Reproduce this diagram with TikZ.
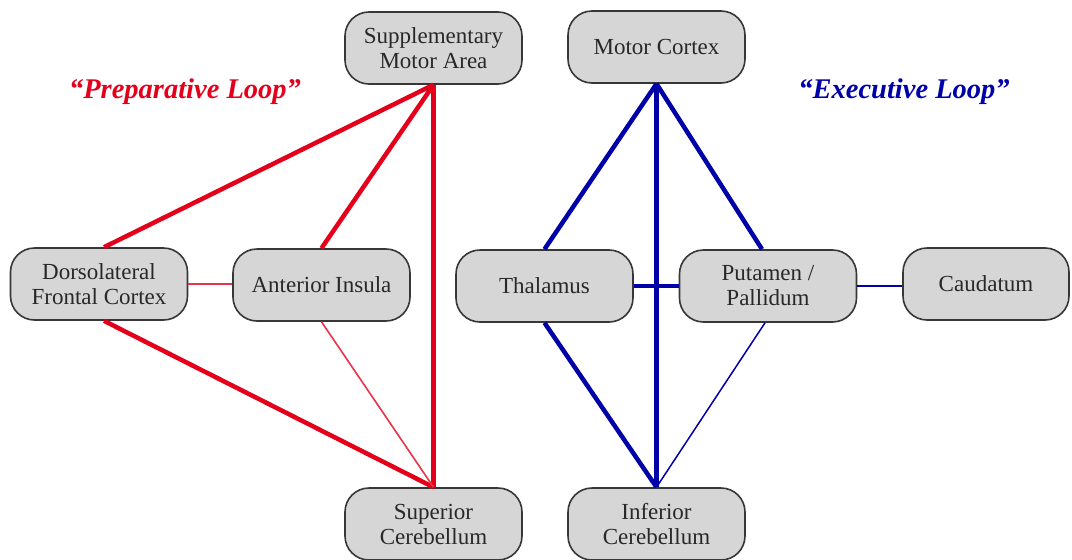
\documentclass[tikz,border=0pt]{standalone}
\usepackage{fontspec}
\setmainfont{Liberation Serif}
\definecolor{redl}{RGB}{228,0,27}
\definecolor{bluel}{RGB}{0,0,168}
\definecolor{boxfill}{RGB}{214,214,214}
\definecolor{boxline}{RGB}{55,55,55}
\definecolor{boxtext}{RGB}{40,40,40}
\begin{document}
\begin{tikzpicture}[x=1pt,y=-1pt,
  region/.style={draw=boxline, line width=1.6pt, fill=boxfill, rounded corners=24pt,
    minimum width=177pt, minimum height=72pt, align=center, inner sep=0pt,
    text=boxtext, font=\fontsize{23}{25}\selectfont},
  thickred/.style={draw=redl, line width=4.5pt},
  thinred/.style={draw=redl!80, line width=1.6pt},
  thickblue/.style={draw=bluel, line width=4.5pt},
  thinblue/.style={draw=bluel, line width=1.5pt},
  looplabel/.style={font=\fontsize{28.5}{32}\selectfont\bfseries\itshape}]
\useasboundingbox (0,0) rectangle (1072,560);
% nodes
\node[region] (sma) at (433.5,48) {Supplementary\\Motor Area};
\node[region] (mc) at (656.5,47) {Motor Cortex};
\node[region] (dlfc) at (99,284) {Dorsolateral\\Frontal Cortex};
\node[region] (ai) at (321.5,285) {Anterior Insula};
\node[region] (thal) at (544.5,286) {Thalamus};
\node[region] (put) at (768,286) {Putamen /\\Pallidum};
\node[region, minimum width=166pt] (caud) at (986,284) {Caudatum};
\node[region] (sc) at (433.5,524) {Superior\\Cerebellum};
\node[region] (ic) at (656.5,524) {Inferior\\Cerebellum};
% labels
\node[looplabel, text=redl] (prep) at (185,92) {“Preparative Loop”};
\node[looplabel, text=bluel] (exec) at (904,92) {“Executive Loop”};
% red edges
\draw[thickred] (sma.south) -- ([xshift=5pt]dlfc.north);
\draw[thickred] (sma.south) -- (ai.north);
\draw[thickred] (sma.south) -- (sc.north);
\draw[thickred] ([xshift=5pt]dlfc.south) -- (sc.north);
\draw[thinred] (dlfc.east) -- (dlfc.east -| ai.west);
\draw[thinred] (ai.south) -- (sc.north);
% blue edges
\draw[thickblue] (mc.south) -- (thal.north);
\draw[thickblue] (mc.south) -- ([xshift=-6pt]put.north);
\draw[thickblue] (mc.south) -- (ic.north);
\draw[thickblue] (thal.east) -- (put.west);
\draw[thickblue] (thal.south) -- (ic.north);
\draw[thinblue] ([xshift=-3pt]put.south) -- (ic.north);
\draw[thinblue] (put.east) -- (put.east -| caud.west);
\end{tikzpicture}
\end{document}
